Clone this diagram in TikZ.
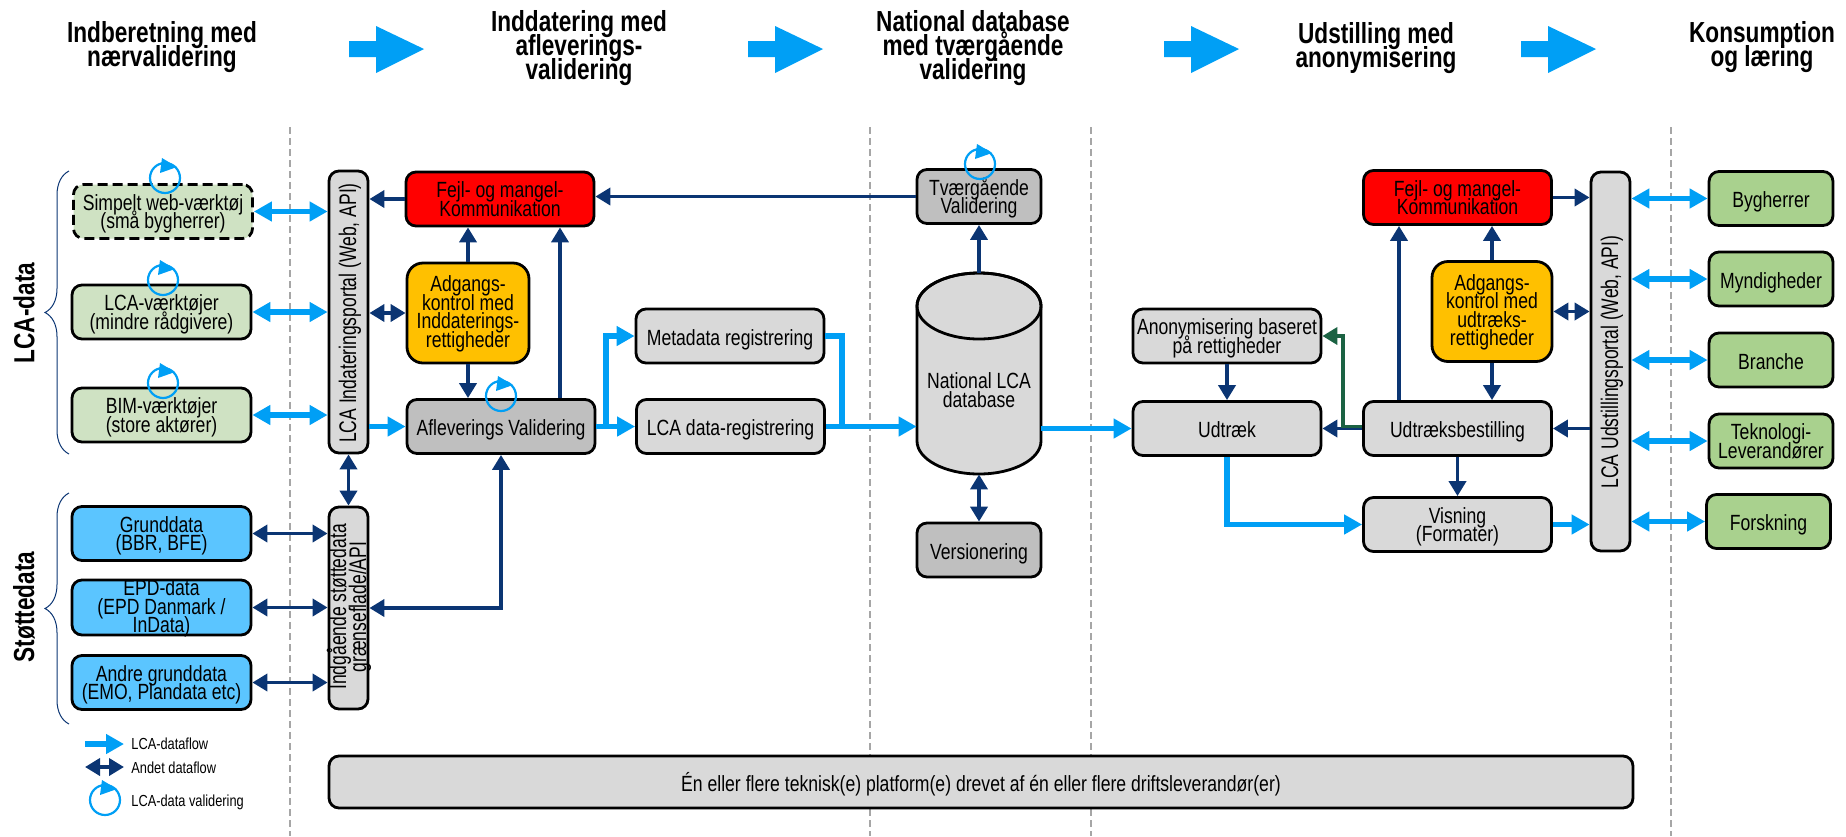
\documentclass[tikz,border=0pt]{standalone}
\usepackage{fontspec}
\setmainfont[FakeStretch=0.8]{Liberation Sans}
\newfontfamily\rotfont[FakeStretch=0.73]{Liberation Sans}
\newfontfamily\headfont[FakeStretch=0.78]{Liberation Sans}
\usetikzlibrary{arrows.meta,decorations.pathreplacing}

\definecolor{lcablue}{HTML}{009FF5}
\definecolor{otherblue}{HTML}{0B3573}
\definecolor{arrowgreen}{HTML}{1B6243}
\definecolor{toolgreen}{HTML}{CFE2C3}
\definecolor{usergreen}{HTML}{A9D18E}
\definecolor{supportblue}{HTML}{5BC5FF}
\definecolor{gold}{HTML}{FFC000}
\definecolor{lightgrey}{HTML}{D9D9D9}
\definecolor{midgrey}{HTML}{BFBFBF}

\newcommand{\boxfont}{\fontsize{11}{9.2}\selectfont\lineskiplimit=-20pt\relax}
\newcommand{\sidefont}{\rotfont\fontsize{12}{10}\selectfont\lineskiplimit=-20pt\relax}
\newcommand{\titlefont}{\headfont\bfseries\fontsize{14.5}{12.2}\selectfont\lineskiplimit=-20pt\relax}

\tikzset{
oneline/.style={text height=9pt, text depth=0pt},
twolines/.style={text height=17pt, text depth=0pt},
threelines/.style={text height=25pt, text depth=0pt},
fourlines/.style={text height=34pt, text depth=0pt},
basebox/.style={draw=black, line width=1.4pt, rounded corners=5pt, inner sep=0pt, align=center, font=\boxfont},
toolbox/.style={basebox, twolines, fill=toolgreen, minimum width=89.5pt, minimum height=27pt},
supportbox/.style={basebox, twolines, fill=supportblue, minimum width=89.5pt, minimum height=27pt},
userbox/.style={basebox, oneline, fill=usergreen, minimum width=62pt, minimum height=27pt},
flowbox/.style={basebox, oneline, fill=lightgrey, minimum width=94pt, minimum height=27pt},
darkbox/.style={basebox, oneline, fill=midgrey, minimum height=27pt},
errorbox/.style={basebox, twolines, fill=red, minimum width=94pt, minimum height=27pt},
accessbox/.style={basebox, fourlines, fill=gold, rounded corners=8pt, minimum height=50pt},
portalbox/.style={draw=black, line width=1.4pt, rounded corners=5pt, inner sep=0pt, fill=lightgrey, minimum width=19.5pt},
sidetext/.style={rotate=90, align=center, inner sep=0pt, font=\sidefont},
titletext/.style={align=center, inner sep=0pt, font=\titlefont},
legendtext/.style={anchor=west, inner sep=0pt, font=\fontsize{8}{9}\selectfont},
bluearr/.style={draw=lcablue, line width=2.75pt, >={Triangle[length=9pt,width=9.5pt]}},
darkarr/.style={draw=otherblue, line width=1.9pt, >={Triangle[length=7.5pt,width=8.5pt]}},
greenarr/.style={draw=arrowgreen, line width=1.9pt, >={Triangle[length=7.5pt,width=8.5pt]}},
bigarrow/.style={fill=lcablue},
sepline/.style={draw=black!35, line width=1pt, dash pattern=on 3.5pt off 2pt},
sidebrace/.style={draw=otherblue, line width=0.5pt, decorate, decoration={brace, amplitude=12pt}},
checkloop/.pic={
\draw [lcablue, line width=1.1pt] (0,0) circle (7.5pt);
\fill [lcablue] (-3,-20)--(12,-11)--(-5,-5)--cycle;
}
}

\begin{document}
\begin{tikzpicture}[x=0.5pt,y=-0.5pt]

\useasboundingbox (0,0) rectangle (1846,836);

\draw [sepline] (290,127)--(290,836);
\draw [sepline] (870,127)--(870,836);
\draw [sepline] (1091,127)--(1091,836);
\draw [sepline] (1671,127)--(1671,836);

\node [titletext] (t1) at (162,47) {Indberetning med\\nærvalidering};
\node [titletext] (t2) at (579,48) {Inddatering med\\afleverings-\\validering};
\node [titletext] (t3) at (973,48) {National database\\med tværgående\\validering};
\node [titletext] (t4) at (1376,48) {Udstilling med\\anonymisering};
\node [titletext] (t5) at (1762,47) {Konsumption\\og læring};

\fill [bigarrow] (349,41)--(376,41)--(376,26)--(424,49)--(376,73)--(376,57)--(349,57)--cycle;
\fill [bigarrow] (748,41)--(775,41)--(775,26)--(823,49)--(775,73)--(775,57)--(748,57)--cycle;
\fill [bigarrow] (1164,41)--(1191,41)--(1191,26)--(1239,49)--(1191,73)--(1191,57)--(1164,57)--cycle;
\fill [bigarrow] (1521,41)--(1548,41)--(1548,26)--(1596,49)--(1548,73)--(1548,57)--(1521,57)--cycle;

\node [titletext, rotate=90] (lcadata) at (24,313) {LCA-data};
\node [titletext, rotate=90] (stoettedata) at (24,607) {Støttedata};

\draw [sidebrace] (69,454)--(69,171);
\draw [sidebrace] (69,724)--(69,493);

\node [toolbox, dash pattern=on 5pt off 2.5pt] (web) at (163,211.5) {Simpelt web-værktøj\\(små bygherrer)};
\node [toolbox] (lcatool) at (161.5,312) {LCA-værktøjer\\(mindre rådgivere)};
\node [toolbox] (bim) at (161.5,415) {BIM-værktøjer\\(store aktører)};

\node [supportbox] (grund) at (161.5,533.5) {Grunddata\\(BBR, BFE)};
\node [supportbox, threelines, minimum height=27.5pt] (epd) at (161.5,607.5) {EPD-data\\(EPD Danmark /\\InData)};
\node [supportbox] (andre) at (161.5,682.5) {Andre grunddata\\(EMO, Plandata etc)};

\node [portalbox, minimum height=141pt] (inportal) at (348.5,312) {};
\node [sidetext] (inportaltext) at (350,313) {LCA Indateringsportal (Web, API)};
\node [portalbox, minimum height=101pt] (supportportal) at (348.5,608) {};
\node [sidetext] (supportportaltext) at (349,607) {Indgående støttedata\\grænseflade/API};

\node [errorbox] (fejlin) at (500,199) {Fejl- og mangel-\\Kommunikation};
\node [accessbox, minimum width=61pt] (adgangin) at (468,313) {Adgangs-\\kontrol med\\Inddaterings-\\rettigheder};
\node [darkbox, minimum width=94pt] (aflevering) at (501,426.5) {Afleverings Validering};
\node [flowbox] (metadata) at (730,336) {Metadata registrering};
\node [flowbox] (lcareg) at (730.5,426.5) {LCA data-registrering};

\node [darkbox, twolines, minimum width=62pt] (tvaer) at (979,196.5) {Tværgående\\Validering};
\draw [fill=lightgrey, line width=1.4pt] (917,306)--(917,441) arc [start angle=180, end angle=360, x radius=31pt, y radius=16.5pt]--(1041,306) arc [start angle=0, end angle=180, x radius=31pt, y radius=16.5pt]--cycle;
\draw [line width=1.4pt] (979,306) ellipse [x radius=31pt, y radius=16.5pt];
\node [inner sep=0pt, minimum width=62pt, minimum height=100.5pt] (natdb) at (979,373.5) {};
\node [inner sep=0pt, align=center, twolines, font=\boxfont] (natdbtext) at (979,390) {National LCA\\database};
\node [darkbox, minimum width=62pt] (version) at (979,550) {Versionering};

\node [flowbox, twolines] (anonym) at (1227,336) {Anonymisering baseret\\på rettigheder};
\node [flowbox] (udtraek) at (1227,428.5) {Udtræk};
\node [flowbox] (bestilling) at (1457.5,428.5) {Udtræksbestilling};
\node [flowbox, twolines] (visning) at (1457.5,524.5) {Visning\\(Formater)};
\node [errorbox] (fejlud) at (1457.5,197.5) {Fejl- og mangel-\\Kommunikation};
\node [accessbox, minimum width=60pt] (adgangud) at (1492,311.5) {Adgangs-\\kontrol med\\udtræks-\\rettigheder};

\node [portalbox, minimum height=189.5pt] (udportal) at (1610.5,361.5) {};
\node [sidetext] (udportaltext) at (1612,362) {LCA Udstillingsportal (Web, API)};

\node [userbox] (bygherrer) at (1771,198.5) {Bygherrer};
\node [userbox] (myndigheder) at (1771,279) {Myndigheder};
\node [userbox] (branche) at (1771,360) {Branche};
\node [userbox, twolines] (teknologi) at (1771,441) {Teknologi-\\Leverandører};
\node [userbox] (forskning) at (1768.5,521.5) {Forskning};

\node [basebox, oneline, fill=lightgrey, minimum width=652pt, minimum height=26pt] (platform) at (981,782) {Én eller flere teknisk(e) platform(e) drevet af én eller flere driftsleverandør(er)};

\draw [bluearr, <->] (web.east)--(web.east -| inportal.west);
\draw [bluearr, <->] (lcatool.east)--(lcatool.east -| inportal.west);
\draw [bluearr, <->] (bim.east)--(bim.east -| inportal.west);
\draw [darkarr, <->] (grund.east)--(grund.east -| supportportal.west);
\draw [darkarr, <->] (epd.east)--(epd.east -| supportportal.west);
\draw [darkarr, <->] (andre.east)--(andre.east -| supportportal.west);
\draw [darkarr, <->] (inportal.south)--(supportportal.north);

\draw [darkarr, ->] (fejlin.west)--(fejlin.west -| inportal.east);
\draw [darkarr, <->] (adgangin.west)--(adgangin.west -| inportal.east);
\draw [darkarr, ->] (adgangin.north)--(adgangin.north |- fejlin.south);
\draw [darkarr, ->] (adgangin.south)--(adgangin.south |- aflevering.north);
\draw [darkarr, ->] ([xshift=29.5pt]aflevering.north)--([xshift=30pt]fejlin.south);
\draw [darkarr, <->] (supportportal.east) -| (aflevering.south);
\draw [bluearr, ->] (aflevering.west -| inportal.east)--(aflevering.west);

\coordinate (splitmeta) at (606,426.5);
\coordinate (joinmeta) at (842,426.5);
\draw [bluearr, ->] (aflevering.east)--(lcareg.west);
\draw [bluearr, ->] (splitmeta) |- (metadata.west);
\draw [bluearr] (metadata.east) -| (joinmeta);
\draw [bluearr, ->] (lcareg.east)--(lcareg.east -| natdb.west);

\draw [darkarr, ->] (tvaer.west)--(tvaer.west -| fejlin.east);
\draw [darkarr, ->] (natdb.north)--(tvaer.south);
\draw [darkarr, <->] (natdb.south)--(version.north);
\draw [bluearr, ->] (udtraek.west -| natdb.east)--(udtraek.west);

\coordinate (greenturn) at (1343,428.5);
\draw [darkarr, ->] (anonym.south)--(udtraek.north);
\draw [darkarr, ->] (bestilling.west)--(udtraek.east);
\draw [greenarr, ->] ([yshift=1pt]bestilling.west)--([yshift=1pt]greenturn) |- (anonym.east);
\draw [bluearr, ->] (udtraek.south) |- (visning.west);
\draw [darkarr, ->] (bestilling.south)--(visning.north);
\draw [darkarr, ->] ([xshift=-29.25pt]bestilling.north)--([xshift=-29.25pt]fejlud.south);
\draw [darkarr, ->] (adgangud.north)--(adgangud.north |- fejlud.south);
\draw [darkarr, ->] (adgangud.south)--(adgangud.south |- bestilling.north);
\draw [darkarr, <->] (adgangud.east)--(adgangud.east -| udportal.west);
\draw [darkarr, ->] (fejlud.east)--(fejlud.east -| udportal.west);
\draw [darkarr, ->] (bestilling.east -| udportal.west)--(bestilling.east);
\draw [bluearr, ->] (visning.east)--(visning.east -| udportal.west);

\draw [bluearr, <->] (bygherrer.west -| udportal.east)--(bygherrer.west);
\draw [bluearr, <->] (myndigheder.west -| udportal.east)--(myndigheder.west);
\draw [bluearr, <->] (branche.west -| udportal.east)--(branche.west);
\draw [bluearr, <->] (teknologi.west -| udportal.east)--(teknologi.west);
\draw [bluearr, <->] (forskning.west -| udportal.east)--(forskning.west);

\pic at (165,178) {checkloop};
\pic at (163,280) {checkloop};
\pic at (163,383) {checkloop};
\pic at (501,396) {checkloop};
\pic at (980,164) {checkloop};

\coordinate (legblue) at (85,744);
\coordinate (legbluetip) at (124,744);
\coordinate (legdark) at (85,767);
\coordinate (legdarktip) at (124,767);
\draw [bluearr, ->] (legblue)--(legbluetip);
\draw [darkarr, <->] (legdark)--(legdarktip);
\pic at (105,800) {checkloop};
\node [legendtext] (leg1) at (131,744) {LCA-dataflow};
\node [legendtext] (leg2) at (131,768) {Andet dataflow};
\node [legendtext] (leg3) at (131,802) {LCA-data validering};

\end{tikzpicture}
\end{document}
